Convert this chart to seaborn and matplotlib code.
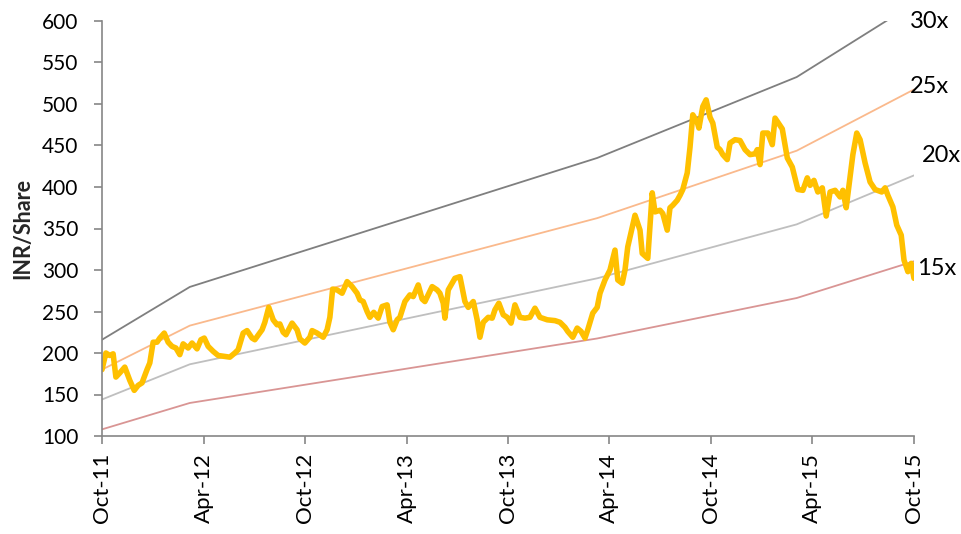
import matplotlib
matplotlib.use("Agg")
import matplotlib.pyplot as plt
import matplotlib.dates as mdates
import pandas as pd
import seaborn as sns

# Share price (INR) on trading dates
price_dates = [
    "2011-10-01", "2011-10-08", "2011-10-15", "2011-10-21", "2011-10-26", "2011-11-02",
    "2011-11-11", "2011-11-20", "2011-11-28", "2011-12-05", "2011-12-12", "2011-12-21",
    "2011-12-26", "2012-01-01", "2012-01-08", "2012-01-13", "2012-01-21", "2012-01-28",
    "2012-02-04", "2012-02-11", "2012-02-18", "2012-02-24", "2012-03-04", "2012-03-11",
    "2012-03-20", "2012-03-27", "2012-04-02", "2012-04-09", "2012-04-18", "2012-04-27",
    "2012-05-08", "2012-05-18", "2012-05-27", "2012-06-02", "2012-06-11", "2012-06-18",
    "2012-06-27", "2012-07-02", "2012-07-15", "2012-07-20", "2012-07-27", "2012-08-04",
    "2012-08-11", "2012-08-16", "2012-08-22", "2012-08-27", "2012-09-07", "2012-09-16",
    "2012-09-21", "2012-09-30", "2012-10-09", "2012-10-13", "2012-10-22", "2012-11-02",
    "2012-11-09", "2012-11-14", "2012-11-19", "2012-11-27", "2012-12-06", "2012-12-15",
    "2012-12-24", "2013-01-02", "2013-01-07", "2013-01-13", "2013-01-20", "2013-01-25",
    "2013-02-01", "2013-02-09", "2013-02-16", "2013-02-25", "2013-03-02", "2013-03-08",
    "2013-03-15", "2013-03-20", "2013-03-29", "2013-04-07", "2013-04-13", "2013-04-22",
    "2013-04-29", "2013-05-04", "2013-05-17", "2013-05-26", "2013-05-31", "2013-06-06",
    "2013-06-09", "2013-06-15", "2013-06-27", "2013-07-06", "2013-07-15", "2013-07-21",
    "2013-07-30", "2013-08-06", "2013-08-11", "2013-08-17", "2013-08-26", "2013-09-02",
    "2013-09-07", "2013-09-14", "2013-09-22", "2013-09-29", "2013-10-06", "2013-10-13",
    "2013-10-22", "2013-10-31", "2013-11-09", "2013-11-18", "2013-11-27", "2013-12-10",
    "2013-12-24", "2014-01-02", "2014-01-11", "2014-01-16", "2014-01-25", "2014-02-02",
    "2014-02-09", "2014-02-16", "2014-02-21", "2014-03-02", "2014-03-10", "2014-03-15",
    "2014-03-24", "2014-04-02", "2014-04-11", "2014-04-16", "2014-04-24", "2014-04-29",
    "2014-05-04", "2014-05-17", "2014-05-26", "2014-05-30", "2014-06-09", "2014-06-17",
    "2014-06-22", "2014-07-01", "2014-07-06", "2014-07-14", "2014-07-19", "2014-07-24",
    "2014-08-01", "2014-08-06", "2014-08-11", "2014-08-19", "2014-08-24", "2014-08-29",
    "2014-09-06", "2014-09-09", "2014-09-16", "2014-09-22", "2014-09-29", "2014-10-04",
    "2014-10-12", "2014-10-17", "2014-10-22", "2014-10-30", "2014-11-04", "2014-11-13",
    "2014-11-22", "2014-12-01", "2014-12-10", "2014-12-19", "2014-12-23", "2014-12-28",
    "2015-01-02", "2015-01-11", "2015-01-19", "2015-01-24", "2015-01-29", "2015-02-06",
    "2015-02-15", "2015-02-24", "2015-03-06", "2015-03-15", "2015-03-23", "2015-03-28",
    "2015-04-04", "2015-04-11", "2015-04-19", "2015-04-26", "2015-05-03", "2015-05-12",
    "2015-05-21", "2015-05-26", "2015-06-01", "2015-06-08", "2015-06-13", "2015-06-20",
    "2015-06-26", "2015-07-05", "2015-07-14", "2015-07-23", "2015-08-04", "2015-08-10",
    "2015-08-15", "2015-08-24", "2015-08-31", "2015-09-08", "2015-09-13", "2015-09-20",
    "2015-09-26", "2015-10-01",
]
price_values = [
    180, 200, 197, 199, 171, 176,
    183, 167, 155, 161, 164, 180,
    188, 213, 213, 218, 224, 213,
    208, 206, 198, 211, 206, 212,
    205, 216, 218, 208, 202, 197,
    196, 195, 200, 204, 224, 227,
    218, 216, 228, 237, 255, 240,
    234, 235, 225, 222, 236, 228,
    217, 212, 219, 227, 224, 219,
    228, 243, 277, 276, 272, 286,
    280, 272, 264, 262, 250, 243,
    249, 242, 256, 258, 237, 228,
    240, 243, 262, 270, 268, 282,
    265, 262, 280, 276, 272, 260,
    242, 276, 290, 292, 262, 255,
    262, 240, 219, 237, 243, 242,
    252, 260, 246, 243, 236, 258,
    243, 242, 243, 254, 243, 240,
    239, 237, 231, 226, 219, 230,
    226, 218, 228, 248, 255, 272,
    288, 300, 324, 288, 284, 300,
    328, 366, 348, 320, 314, 393,
    370, 372, 368, 348, 375, 378,
    384, 390, 397, 417, 448, 487,
    478, 471, 497, 505, 484, 477,
    448, 445, 439, 433, 453, 457,
    456, 445, 439, 440, 445, 427,
    465, 465, 451, 483, 478, 470,
    435, 424, 397, 396, 411, 402,
    408, 394, 399, 365, 394, 396,
    388, 396, 375, 412, 439, 465,
    457, 429, 406, 397, 394, 399,
    390, 376, 354, 342, 312, 298,
    308, 290,
]

# One-year forward EPS used for the P/E bands
eps_dates = ["2011-10-01", "2012-03-07", "2014-03-10", "2015-03-04", "2015-10-01"]
eps_values = [7.2, 9.32, 14.5, 17.75, 20.7]

multiples = [30, 25, 20, 15]
band_labels = ["30x", "25x", "20x", "15x"]
band_colors = ["#7F7F7F", "#FAB98C", "#BFBFBF", "#D99594"]
price_color = "#FFC000"

sns.set_theme(style="white")
plt.rcParams["font.family"] = ["Lato", "DejaVu Sans"]

price = pd.DataFrame({"date": pd.to_datetime(price_dates), "price": price_values})
eps = pd.DataFrame({"date": pd.to_datetime(eps_dates), "eps": eps_values})

fig = plt.figure(figsize=(9.61, 5.34), dpi=100)
ax = fig.add_axes([102 / 961, 1 - 436 / 534, 812 / 961, 415 / 534])

y_lo, y_hi = 100, 600

# P/E bands
label_offsets = {"30x": (-3, 0), "25x": (-3, 2), "20x": (6, 14), "15x": (2, -5)}
for m, lab, col in zip(multiples, band_labels, band_colors):
    band = eps.assign(value=eps["eps"] * m)
    sns.lineplot(data=band, x="date", y="value", ax=ax, color=col,
                 linewidth=1.3, estimator=None)
    end_val = min(band["value"].iloc[-1], y_hi)
    dx, dy = label_offsets[lab]
    ax.annotate(lab, xy=(band["date"].iloc[-1], end_val),
                xytext=(dx, dy), textcoords="offset points",
                ha="left", va="center", fontsize=17, color="black",
                annotation_clip=False)

# Share price
sns.lineplot(data=price, x="date", y="price", ax=ax, color=price_color,
             linewidth=4.0, estimator=None, solid_joinstyle="round",
             solid_capstyle="round")

ax.set_xlim(pd.Timestamp("2011-10-01"), pd.Timestamp("2015-10-01"))
ax.set_ylim(y_lo, y_hi)
ax.set_yticks(range(y_lo, y_hi + 1, 50))
ax.set_xticks(pd.date_range("2011-10-01", "2015-10-01", freq="6MS"))
ax.xaxis.set_major_formatter(mdates.DateFormatter("%b-%y"))

ax.set_xlabel("")
ax.set_ylabel("INR/Share", fontsize=15.5, fontweight="bold", labelpad=6)

axis_grey = "#868686"
for side in ("top", "right"):
    ax.spines[side].set_visible(False)
for side in ("left", "bottom"):
    ax.spines[side].set_color(axis_grey)
    ax.spines[side].set_linewidth(1.2)

ax.tick_params(axis="both", which="major", direction="out", length=6, width=1.2,
               color=axis_grey, labelcolor="black", bottom=True, left=True)
ax.tick_params(axis="y", pad=11, labelsize=15)
ax.tick_params(axis="x", pad=6, labelrotation=90, labelsize=16)

fig.savefig("out.png", dpi=100)
